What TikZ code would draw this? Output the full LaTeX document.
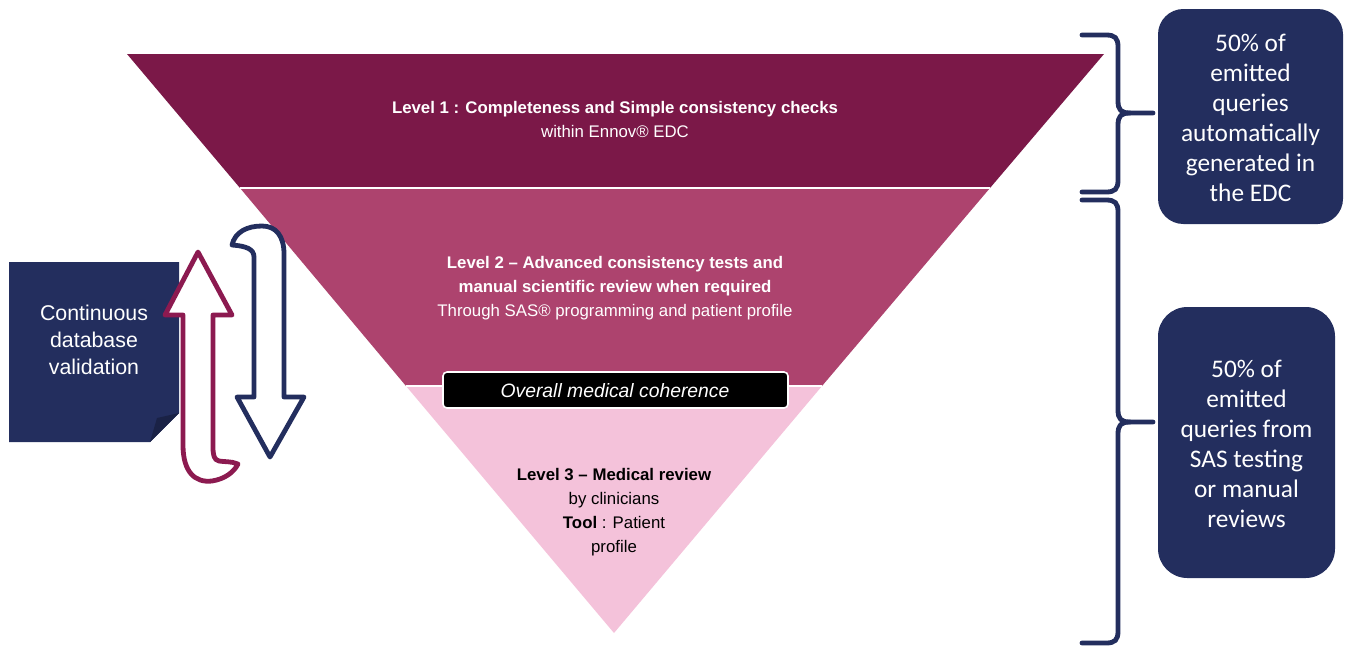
\documentclass[tikz,border=0pt]{standalone}
\usepackage{fontspec}
\setmainfont{Liberation Sans}
\newfontfamily\calibrifont{Carlito}
\definecolor{lvlone}{HTML}{7B1848}
\definecolor{lvltwo}{HTML}{AD436E}
\definecolor{lvlthree}{HTML}{F4C2DA}
\definecolor{navy}{HTML}{232E5E}
\definecolor{magarrow}{HTML}{8C1A50}
\tikzset{
  lvltext/.style={align=center, inner sep=0pt, font=\fontsize{12.6}{18}\selectfont},
  sidebox/.style={fill=navy, draw=none},
  sidetext/.style={align=center, inner sep=0pt, text=white, font=\calibrifont\fontsize{19}{22.5}\selectfont},
  bracestyle/.style={draw=navy, line width=3.6pt, line cap=round, line join=round},
  arrowoutline/.style={fill=white, line width=3.6pt, line join=round},
}
\begin{document}
\begin{tikzpicture}[x=0.75pt,y=-0.75pt]
\useasboundingbox (0,0) rectangle (1351,647);
% triangle bands
\fill[lvlone] (127,54) -- (1104,54) -- (990,188) -- (240,188) -- cycle;
\fill[lvltwo] (240,188) -- (990,188) -- (822,386) -- (406,386) -- cycle;
\fill[lvlthree] (406,386) -- (822,386) -- (614,633) -- cycle;
\draw[white, line width=1.5pt] (240,188) -- (990,188);
\draw[white, line width=1.2pt] (406,386) -- (822,386);
% level texts
\node[lvltext, text=white] (l1) at (615,119.5) {\textbf{Level 1 : Completeness and Simple consistency checks}\\[-0.6pt]within Ennov® EDC};
\node[lvltext, text=white] (l2) at (615,288.5) {\textbf{Level 2 – Advanced consistency tests and}\\\textbf{manual scientific review when required}\\Through SAS® programming and patient profile};
\node[lvltext, text=black] (l3) at (614,512) {\textbf{Level 3 – Medical review}\\by clinicians\\\textbf{Tool} : Patient\\profile};
% overall medical coherence
\draw[fill=black, draw=white, line width=1.2pt, rounded corners=3pt] (443,372) rectangle (788,408);
\node[inner sep=0pt, text=white, font=\fontsize{14.5}{17}\selectfont\itshape] (omc) at (615,391) {Overall medical coherence};
% left box with folded corner
\fill[navy] (9,262) -- (179,262) -- (179,413) -- (150,442) -- (9,442) -- cycle;
\fill[navy!75!black] (150,442) -- (157,418) -- (179,413) -- cycle;
\node[align=center, inner sep=0pt, text=white, font=\fontsize{16}{20.25}\selectfont] (cdv) at (94,340) {Continuous\\database\\validation};
% magenta up arrow
\draw[arrowoutline, draw=magarrow] (183,315) -- (183,445) .. controls (183,472) and (195,483) .. (212,481) .. controls (225,479) and (234,472) .. (238,464) .. controls (231,461) and (224,462) .. (219,461) .. controls (214,460) and (213,455) .. (213,447) -- (213,315) -- (232,315) -- (198,252) -- (165,315) -- cycle;
% navy down arrow
\draw[arrowoutline, draw=navy] (254,397) -- (254,257) .. controls (254,249) and (246,246) .. (232,245) .. controls (235,232) and (247,226) .. (262,226) .. controls (276,226) and (284,236) .. (284,254) -- (284,397) -- (304,397) -- (270,457) -- (237,397) -- cycle;
% braces
\draw[bracestyle] (1082,35) -- (1106,35) .. controls (1115,35) and (1118,38) .. (1118,47) -- (1118,101) .. controls (1118,110) and (1121,113) .. (1130,113) -- (1153,113);
\draw[bracestyle] (1130,113) .. controls (1121,113) and (1118,116) .. (1118,125) -- (1118,180) .. controls (1118,189) and (1115,192) .. (1106,192) -- (1082,192);
\draw[bracestyle] (1082,200) -- (1106,200) .. controls (1115,200) and (1118,203) .. (1118,212) -- (1118,410) .. controls (1118,419) and (1121,422) .. (1130,422) -- (1153,422);
\draw[bracestyle] (1130,422) .. controls (1121,422) and (1118,425) .. (1118,434) -- (1118,631) .. controls (1118,640) and (1115,643) .. (1106,643) -- (1082,643);
% right boxes
\fill[sidebox, rounded corners=19pt] (1158,9) rectangle (1343,224);
\node[sidetext] (r1) at (1250.5,117.5) {50\% of\\emitted\\queries\\automatically\\generated in\\the EDC};
\fill[sidebox, rounded corners=22pt] (1158,307) rectangle (1335,578);
\node[sidetext] (r2) at (1246.5,443.5) {50\% of\\emitted\\queries from\\SAS testing\\or manual\\reviews};
\end{tikzpicture}
\end{document}
